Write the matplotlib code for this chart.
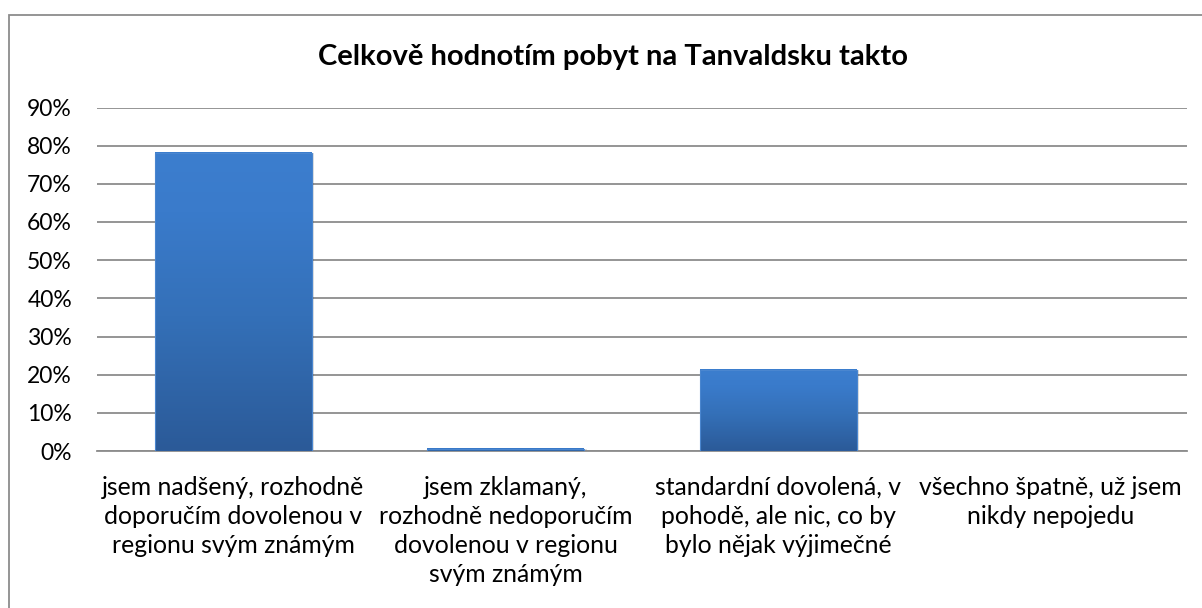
import matplotlib
matplotlib.use("Agg")
import matplotlib.pyplot as plt
import numpy as np
from matplotlib.colors import LinearSegmentedColormap
from matplotlib.patches import Rectangle

plt.rcParams['font.family'] = ['Lato', 'DejaVu Sans']

title = "Celkově hodnotím pobyt na Tanvaldsku takto"
categories = [
    "jsem nadšený, rozhodně\ndoporučím dovolenou v\nregionu svým známým",
    "jsem zklamaný,\nrozhodně nedoporučím\ndovolenou v regionu\nsvým známým",
    "standardní dovolená, v\npohodě, ale nic, co by\nbylo nějak výjimečné",
    "všechno špatně, už jsem\nnikdy nepojedu",
]
values = [78.2, 0.6, 21.3, 0.0]
yticks = [0, 10, 20, 30, 40, 50, 60, 70, 80, 90]
ytick_labels = [f"{v}%" for v in yticks]

W, H = 1202, 608
fig = plt.figure(figsize=(W / 100, H / 100), dpi=100)
fig.patch.set_facecolor("white")

# outer chart border
fig.patches.append(Rectangle((9 / W, -0.1), 1.5, (H - 15) / H + 0.1,
                             transform=fig.transFigure, fill=False,
                             edgecolor="#8c8c8c", linewidth=1.3))

ax = fig.add_axes([97 / W, (H - 451) / H, 1090 / W, (451 - 107.5) / H])
x = np.arange(len(categories))
bars = ax.bar(x, values, width=0.576, color="none", edgecolor="none", zorder=3)

cmap = LinearSegmentedColormap.from_list(
    "g", [(0.0, "#2b5a98"), (0.45, "#3470b8"), (0.8, "#3a7bcb"), (1.0, "#3c7ece")])
grad = np.linspace(0, 1, 256).reshape(-1, 1)
for b in bars:
    h = b.get_height()
    if h <= 0:
        continue
    x0 = b.get_x()
    w = b.get_width()
    ax.add_patch(Rectangle((x0 + 0.004, 0), w + 0.006, h, facecolor="#000000",
                           alpha=0.12, edgecolor="none", zorder=2))
    ax.imshow(grad, extent=[x0, x0 + w, 0, h], origin="lower", cmap=cmap,
              aspect="auto", zorder=3, interpolation="bicubic")
    ax.add_patch(Rectangle((x0, 0), w, h, fill=False, edgecolor="#4a86cf",
                           linewidth=0.8, zorder=4))

ax.set_xlim(-0.5, len(categories) - 0.5)
ax.set_ylim(0, 90)
ax.set_yticks(yticks)
ax.set_yticklabels(ytick_labels)
ax.yaxis.grid(True, color="#8c8c8c", linewidth=1.3, zorder=0)
ax.set_axisbelow(True)
ax.set_xticks(x)
ax.set_xticklabels(categories, linespacing=1.31)
for s in ["top", "right", "left"]:
    ax.spines[s].set_visible(False)
ax.spines["bottom"].set_color("#8c8c8c")
ax.spines["bottom"].set_linewidth(1.3)
ax.tick_params(axis="both", length=0, colors="black")
ax.tick_params(axis="y", pad=18, labelsize=16.5)
ax.tick_params(axis="x", pad=18, labelsize=17.8)

fig.text(613 / W, (H - 57) / H, title, ha="center", va="center",
         fontsize=21, fontweight="bold")

fig.savefig("out.png", dpi=100, facecolor="white")
